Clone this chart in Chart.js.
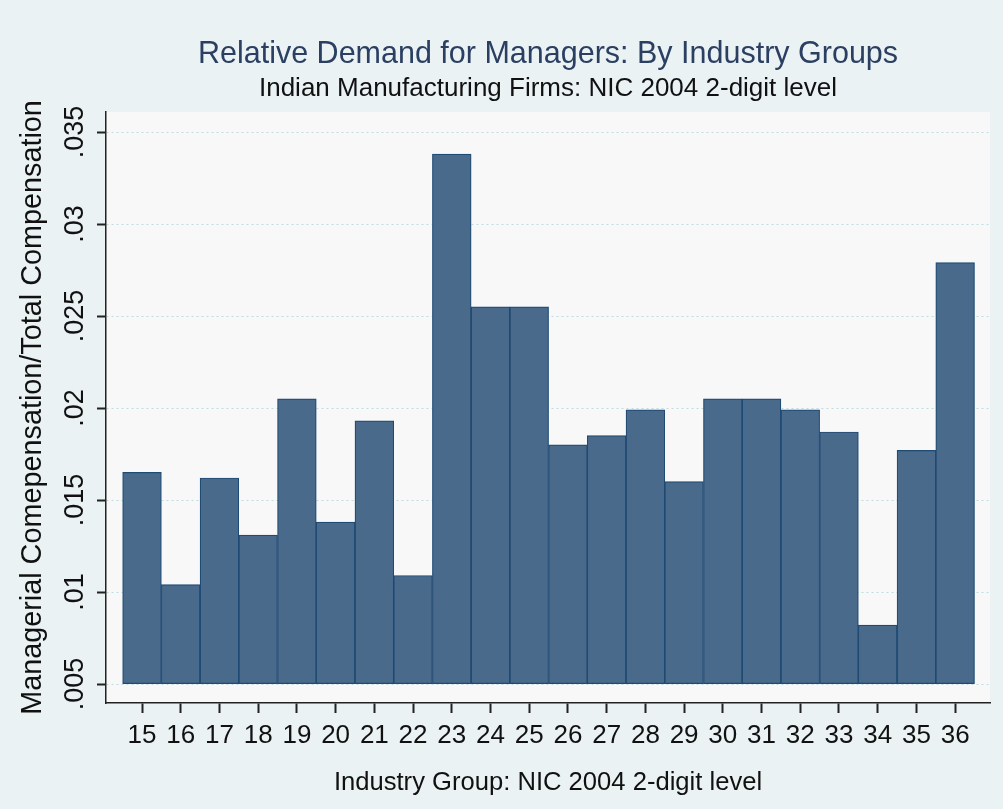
<!DOCTYPE html>
<html>
<head>
<meta charset="utf-8">
<script src="https://cdn.jsdelivr.net/npm/chart.js@4.4.1/dist/chart.umd.min.js"></script>
<style>
  html, body { margin: 0; padding: 0; background: #eaf2f3; }
  canvas { display: block; }
</style>
</head>
<body>
<canvas id="chart" width="1003" height="809"></canvas>
<script>
// industry groups (NIC 2004, 2-digit) and the bar heights
const categories = [15, 16, 17, 18, 19, 20, 21, 22, 23, 24, 25, 26, 27, 28, 29, 30, 31, 32, 33, 34, 35, 36];
const shares = [0.0165, 0.0104, 0.0162, 0.0131, 0.0205, 0.0138, 0.0193, 0.0109, 0.0338, 0.0255, 0.0255,
                0.0180, 0.0185, 0.0199, 0.0160, 0.0205, 0.0205, 0.0199, 0.0187, 0.0082, 0.0177, 0.0279];
const yTicks = [0.005, 0.01, 0.015, 0.02, 0.025, 0.03, 0.035];
const yTickLabels = ['.005', '.01', '.015', '.02', '.025', '.03', '.035'];

const FONT = "'Liberation Sans', Arial, sans-serif";

const plotBg = {
    id: 'plotBg',
    beforeDraw(chart) {
        const { ctx, chartArea: a } = chart;
        ctx.save();
        ctx.fillStyle = '#eaf2f3';
        ctx.fillRect(0, 0, chart.width, chart.height);
        ctx.fillStyle = '#f8f8f8';
        ctx.fillRect(a.left, a.top, a.right - a.left, a.bottom - a.top);
        ctx.restore();
    }
};

const ctx = document.getElementById('chart').getContext('2d');
new Chart(ctx, {
    type: 'bar',
    data: {
        datasets: [{
            data: categories.map((c, i) => ({ x: c, y: shares[i] })),
            base: 0.005,
            backgroundColor: '#4a6a8c',
            borderColor: '#1f4a73',
            borderWidth: 1.2,
            borderSkipped: false,
            barPercentage: 1,
            categoryPercentage: 1
        }]
    },
    options: {
        responsive: false,
        animation: false,
        devicePixelRatio: 1,
        layout: { padding: { left: 0, right: 13, top: 0, bottom: 0 } },
        plugins: {
            legend: { display: false },
            tooltip: { enabled: false },
            title: {
                display: true,
                fullSize: false,
                text: 'Relative Demand for Managers: By Industry Groups',
                color: '#2b3f62',
                font: { family: FONT, size: 30.5, weight: 'normal', lineHeight: 1.2 },
                padding: { top: 36.7, bottom: 0 }
            },
            subtitle: {
                display: true,
                fullSize: false,
                text: 'Indian Manufacturing Firms: NIC 2004 2-digit level',
                color: '#111111',
                font: { family: FONT, size: 26, weight: 'normal', lineHeight: 1.2 },
                padding: { top: 0, bottom: 7.5 }
            }
        },
        scales: {
            x: {
                type: 'linear',
                offset: false,
                min: 14.07,
                max: 36.9,
                afterBuildTicks: s => { s.ticks = categories.map(v => ({ value: v })); },
                afterFit: s => { s.height = 106; },
                grid: { drawOnChartArea: false, drawTicks: true, tickLength: 10, tickColor: '#222', tickWidth: 2, offset: false },
                border: { display: true, color: '#222', width: 1.5 },
                ticks: {
                    color: '#111',
                    padding: 7.4,
                    maxRotation: 0,
                    autoSkip: false,
                    font: { family: FONT, size: 26 },
                    callback: v => String(v)
                },
                title: {
                    display: true,
                    text: 'Industry Group: NIC 2004 2-digit level',
                    color: '#111',
                    font: { family: FONT, size: 25.6 },
                    padding: { top: 0, bottom: 10.6 }
                }
            },
            y: {
                min: 0.00397,
                max: 0.03609,
                beginAtZero: false,
                afterBuildTicks: s => { s.ticks = yTicks.map(v => ({ value: v })); },
                afterFit: s => { s.width = 106; },
                grid: { color: 'rgba(175,212,218,0.8)', lineWidth: 1, drawTicks: true, tickLength: 9, tickColor: '#222', tickWidth: 2 },
                border: { display: true, color: '#222', width: 1.5, dash: [2, 3] },
                ticks: {
                    color: '#111',
                    minRotation: 90,
                    maxRotation: 90,
                    crossAlign: 'center',
                    padding: -5,
                    font: { family: FONT, size: 27 },
                    callback: (v, i) => yTickLabels[i]
                },
                title: {
                    display: true,
                    text: 'Managerial Comepensation/Total Compensation',
                    color: '#111',
                    font: { family: FONT, size: 28.8 },
                    padding: { top: 16, bottom: 0 }
                }
            }
        }
    },
    plugins: [plotBg]
});
</script>
</body>
</html>
